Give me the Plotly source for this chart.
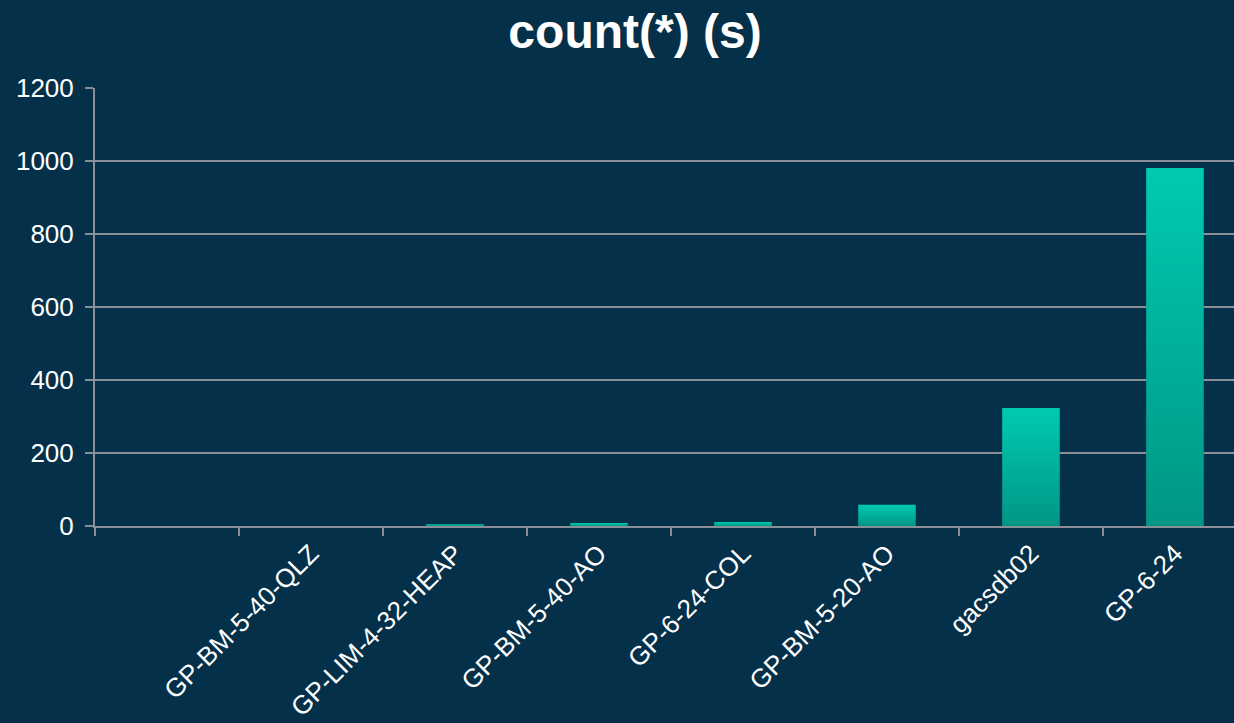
import plotly.graph_objects as go

categories = ["", "GP-BM-5-40-QLZ", "GP-LIM-4-32-HEAP", "GP-BM-5-40-AO", "GP-6-24-COL",
              "GP-BM-5-20-AO", "gacsdb02", "GP-6-24"]
values = [None, 1.5, 5, 8, 11, 58, 323, 981]
y_ticks = [0, 200, 400, 600, 800, 1000, 1200]

BG = "#05304a"
GRID = "#8a8f96"
FONT = "Liberation Sans, Arial, sans-serif"
HALF = 0.2

fig = go.Figure()
for i, v in enumerate(values):
    if v is None:
        continue
    fig.add_trace(go.Scatter(
        x=[i - HALF, i + HALF, i + HALF, i - HALF, i - HALF],
        y=[0, 0, v, v, 0],
        mode="lines", line=dict(width=0),
        fill="toself",
        fillgradient=dict(type="vertical", start=0, stop=v,
                          colorscale=[[0, "#009685"], [1, "#00cab1"]]),
        name=categories[i], showlegend=False, hoverinfo="skip",
    ))

idx = list(range(len(categories)))
fig.update_layout(
    width=1234, height=723,
    paper_bgcolor=BG, plot_bgcolor=BG,
    margin=dict(l=95, r=0, t=88, b=197),
    title=dict(text="<b>count(*) (s)</b>", x=0.5146, xref="container", xanchor="center",
               y=0.957, yref="container", yanchor="middle",
               font=dict(family=FONT, size=48, color="white")),
    font=dict(family=FONT, color="white"),
    xaxis=dict(range=[-0.5, 7.41], tickvals=idx, ticktext=categories, tickangle=-45,
               ticks="", showgrid=False, zeroline=False, showline=True,
               linecolor=GRID, linewidth=2,
               tickfont=dict(family=FONT, size=26, color="white"),
               minor=dict(tickvals=[k - 0.5 for k in range(len(categories) + 1)],
                          ticks="outside", ticklen=8, tickwidth=2, tickcolor=GRID,
                          showgrid=False),
               fixedrange=True),
    yaxis=dict(range=[0, 1200], tickvals=y_ticks, showgrid=True, gridcolor=GRID, gridwidth=2,
               zeroline=False, showline=True, linecolor=GRID, linewidth=2,
               ticks="outside", ticklen=8, tickwidth=2, tickcolor=GRID,
               ticklabelstandoff=6,
               tickfont=dict(family=FONT, size=26, color="white"),
               fixedrange=True),
)

fig.write_html("out.html")
